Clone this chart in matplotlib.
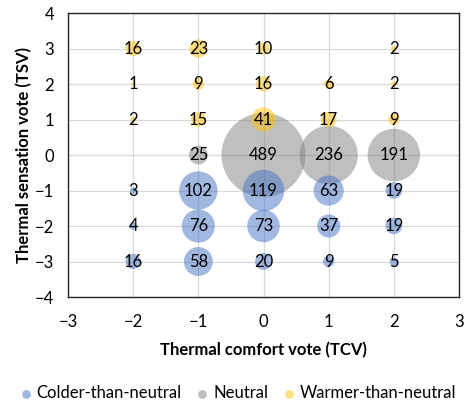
import numpy as np
import matplotlib.pyplot as plt

plt.rcParams['font.family'] = ['Lato', 'DejaVu Sans']

# colder than neutral (blue)
cold_tcv = [-2, -1, 0, 1, 2, -2, -1, 0, 1, 2, -2, -1, 0, 1, 2]
cold_tsv = [-1, -1, -1, -1, -1, -2, -2, -2, -2, -2, -3, -3, -3, -3, -3]
cold_n = [3, 102, 119, 63, 19, 4, 76, 73, 37, 19, 16, 58, 20, 9, 5]

# neutral (grey)
neut_tcv = [-1, 0, 1, 2]
neut_tsv = [0, 0, 0, 0]
neut_n = [25, 489, 236, 191]

# warmer than neutral (yellow)
warm_tcv = [-2, -1, 0, 2, -2, -1, 0, 1, 2, -2, -1, 0, 1, 2]
warm_tsv = [3, 3, 3, 3, 2, 2, 2, 2, 2, 1, 1, 1, 1, 1]
warm_n = [16, 23, 10, 2, 1, 9, 16, 6, 2, 2, 15, 41, 17, 9]

dpi = 100
fig = plt.figure(figsize=(4.67, 4.03), dpi=dpi)
ax = fig.add_axes([0.1456, 0.263, 0.8373, 0.7047])

nmax = max(neut_n)
max_r = 42  # radius in px of the biggest bubble
s_max = (2 * max_r * 72 / dpi) ** 2


def sizes(n):
    return np.array(n) / nmax * s_max


ax.scatter(neut_tcv, neut_tsv, s=sizes(neut_n), color='#808080', alpha=0.5,
           linewidths=0, label='Neutral', zorder=2)
ax.scatter(cold_tcv, cold_tsv, s=sizes(cold_n), color='#4472C4', alpha=0.5,
           linewidths=0, label='Colder-than-neutral', zorder=3)
ax.scatter(warm_tcv, warm_tsv, s=sizes(warm_n), color='#FFC000', alpha=0.5,
           linewidths=0, label='Warmer-than-neutral', zorder=3)

for xs, ys, ns in [(cold_tcv, cold_tsv, cold_n), (neut_tcv, neut_tsv, neut_n),
                   (warm_tcv, warm_tsv, warm_n)]:
    for x, y, n in zip(xs, ys, ns):
        ax.text(x, y, str(n), ha='center', va='center', fontsize=12,
                color='black', zorder=5)

ax.set_xlim(-3, 3)
ax.set_ylim(-4, 4)
ax.set_xticks(range(-3, 4))
ax.set_yticks(range(-4, 5))
ax.grid(True, color='#D9D9D9', linewidth=0.9, zorder=0)
ax.set_axisbelow(True)
ax.tick_params(length=0, labelsize=12)
ax.tick_params(axis='x', pad=12)
ax.tick_params(axis='y', pad=10)
for sp in ax.spines.values():
    sp.set_color('#262626')
    sp.set_linewidth(1.0)

ax.set_xlabel('Thermal comfort vote (TCV)', fontsize=12, fontweight='bold', labelpad=9)
ax.set_ylabel('Thermal sensation vote (TSV)', fontsize=12, fontweight='bold', labelpad=2)

h, l = ax.get_legend_handles_labels()
order = [1, 0, 2]
leg = fig.legend([h[i] for i in order], [l[i] for i in order], loc='center',
                 bbox_to_anchor=(0.51, 0.025), ncol=3, frameon=False, fontsize=12,
                 handletextpad=0.3, columnspacing=0.9, handlelength=0.7,
                 markerscale=1)
for hd in leg.legend_handles:
    hd.set_sizes([40])

fig.savefig('out.png', dpi=dpi)
